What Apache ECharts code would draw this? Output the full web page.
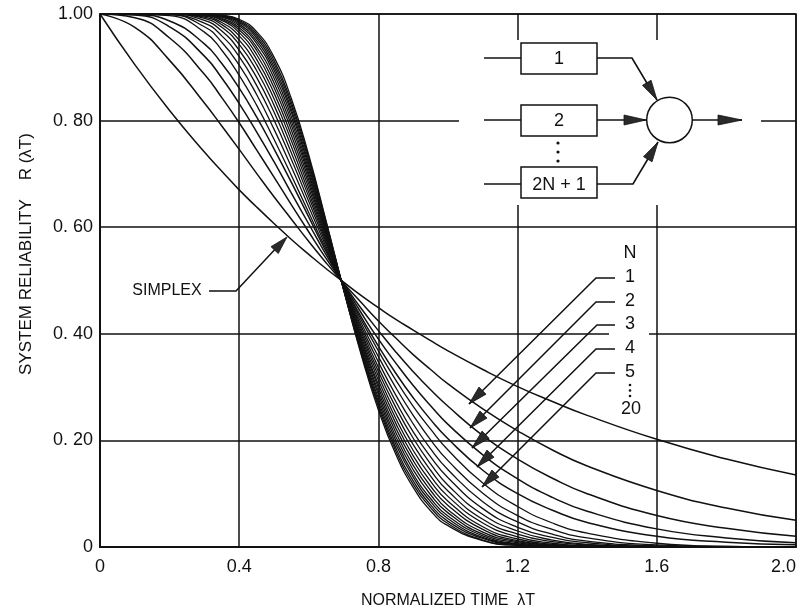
<!DOCTYPE html>
<html>
<head>
<meta charset="utf-8">
<title>System reliability vs normalized time</title>
<script src="https://cdn.jsdelivr.net/npm/echarts@6.0.0/dist/echarts.min.js"></script>
<style>
  html, body { margin: 0; padding: 0; background: #fff; }
  #chart { width: 799px; height: 614px; }
</style>
</head>
<body>
<div id="chart"></div>
<script>
// normalized time samples (lambda * T)
var xs = [0, 0.1, 0.2, 0.3, 0.35, 0.4, 0.45, 0.5, 0.55, 0.6, 0.65, 0.7, 0.75,
          0.8, 0.85, 0.9, 0.95, 1.0, 1.1, 1.2, 1.3, 1.4, 1.6, 1.8, 2.0];

var simplex = [1, .905, .819, .741, .705, .670, .638, .607, .577, .549, .522, .497, .472,
               .449, .427, .407, .387, .368, .333, .301, .273, .247, .202, .165, .135];

// 2N+1 redundant modules with voter, N = 1..20
var r1  = [1, .975, .913, .833, .790, .746, .701, .657, .615, .573, .533, .495, .459, .424, .392, .361, .333, .306, .259, .218, .182, .152, .106, .073, .050];
var r2  = [1, .993, .955, .887, .843, .796, .745, .694, .642, .591, .541, .494, .448, .406, .366, .329, .295, .264, .209, .165, .129, .100, .059, .035, .020];
var r3  = [1, .998, .976, .921, .880, .832, .779, .723, .664, .606, .548, .493, .440, .390, .345, .303, .265, .230, .173, .128, .093, .067, .034, .017, .008];
var r4  = [1, .999, .987, .944, .907, .861, .807, .747, .684, .619, .554, .492, .432, .377, .326, .280, .239, .203, .144, .100, .069, .046, .020, .009, .004];
var r5  = [1, 1, .997, .966, .932, .885, .829, .765, .697, .627, .558, .491, .427, .368, .313, .264, .221, .182, .120, .076, .045, .026, .007, .001, 0];
var r6  = [1, 1, .999, .976, .947, .904, .849, .784, .713, .638, .563, .490, .421, .357, .299, .247, .201, .162, .101, .059, .033, .017, .004, .001, 0];
var r7  = [1, 1, .999, .983, .959, .920, .866, .801, .727, .648, .568, .489, .415, .347, .285, .231, .184, .145, .085, .047, .024, .011, .002, 0, 0];
var r8  = [1, 1, 1, .988, .968, .932, .881, .816, .739, .657, .572, .489, .410, .337, .273, .216, .169, .130, .072, .037, .018, .008, .001, 0, 0];
var r9  = [1, 1, 1, .992, .975, .943, .894, .829, .751, .665, .576, .488, .405, .329, .262, .204, .156, .116, .061, .030, .013, .005, .001, 0, 0];
var r10 = [1, 1, 1, .994, .980, .951, .905, .841, .762, .673, .580, .488, .400, .321, .251, .192, .144, .105, .052, .024, .010, .004, 0, 0, 0];
var r11 = [1, 1, 1, .996, .984, .959, .915, .852, .772, .681, .584, .487, .395, .313, .241, .181, .133, .095, .045, .019, .007, .002, 0, 0, 0];
var r12 = [1, 1, 1, .997, .988, .965, .924, .862, .782, .688, .587, .486, .391, .305, .232, .171, .123, .086, .038, .015, .005, .002, 0, 0, 0];
var r13 = [1, 1, 1, .998, .990, .970, .932, .871, .791, .695, .591, .486, .387, .299, .223, .162, .114, .078, .033, .012, .004, .001, 0, 0, 0];
var r14 = [1, 1, 1, .999, .992, .974, .938, .880, .799, .701, .594, .485, .383, .292, .215, .153, .106, .070, .028, .010, .003, .001, 0, 0, 0];
var r15 = [1, 1, 1, .999, .994, .978, .945, .888, .807, .707, .597, .485, .379, .286, .207, .145, .098, .064, .024, .008, .002, .001, 0, 0, 0];
var r16 = [1, 1, 1, .999, .995, .981, .950, .895, .815, .713, .600, .484, .375, .279, .200, .137, .091, .058, .021, .006, .002, 0, 0, 0, 0];
var r17 = [1, 1, 1, .999, .996, .984, .955, .901, .821, .719, .603, .484, .372, .273, .193, .131, .085, .053, .018, .005, .001, 0, 0, 0, 0];
var r18 = [1, 1, 1, 1, .997, .986, .959, .907, .828, .725, .606, .483, .368, .268, .186, .124, .079, .048, .016, .004, .001, 0, 0, 0, 0];
var r19 = [1, 1, 1, 1, .997, .988, .963, .913, .834, .730, .609, .483, .365, .263, .180, .118, .074, .044, .013, .003, .001, 0, 0, 0, 0];
var r20 = [1, 1, 1, 1, .998, .990, .967, .919, .841, .735, .611, .483, .362, .257, .174, .112, .068, .040, .012, .003, .001, 0, 0, 0, 0];

var redundant = [r1, r2, r3, r4, r5, r6, r7, r8, r9, r10, r11, r12, r13, r14, r15, r16, r17, r18, r19, r20];

var xTickLabels = ['0', '0.4', '0.8', '1.2', '1.6', '2.0'];
var yTickLabels = ['0', '0. 20', '0. 40', '0. 60', '0. 80', '1.00'];
var nLabels = ['1', '2', '3', '4', '5'];

var INK = '#111';
var FONT = '"Liberation Sans", Arial, sans-serif';

var chart = echarts.init(document.getElementById('chart'), null, {renderer: 'canvas'});

function curve(ys, w) {
    return {
        type: 'line',
        data: xs.map(function (x, i) { return [x, ys[i]]; }),
        smooth: 0.5,
        symbol: 'none',
        silent: true,
        lineStyle: {color: INK, width: w}
    };
}

var series = [curve(simplex, 1.5)];
redundant.forEach(function (ys, i) {
    series.push(curve(ys, i < 4 ? 1.5 : 1.3));
});

// little helpers for the annotation drawing
function line(points, w) {
    return {type: 'polyline', z: 110, silent: true,
        shape: {points: points},
        style: {stroke: INK, lineWidth: w || 1.5, fill: null}};
}
function head(tx, ty, fx, fy, len, wid) {
    var dx = tx - fx, dy = ty - fy, d = Math.sqrt(dx * dx + dy * dy);
    var ux = dx / d, uy = dy / d;
    var bx = tx - ux * len, by = ty - uy * len;
    var px = -uy * wid / 2, py = ux * wid / 2;
    return {type: 'polygon', z: 111, silent: true,
        shape: {points: [[tx, ty], [bx + px, by + py], [bx - px, by - py]]},
        style: {fill: '#2a2a2a', stroke: INK, lineWidth: 0.8}};
}
function label(txt, x, y, size, extra) {
    var el = {type: 'text', z: 112, silent: true, x: x, y: y,
        style: {text: txt, x: 0, y: 0, fill: INK, font: (size || 16) + 'px ' + FONT,
            align: 'center', verticalAlign: 'middle'}};
    if (extra) { for (var k in extra) el[k] = extra[k]; }
    return el;
}
function box(x, y, w, h) {
    return {type: 'rect', z: 111, silent: true,
        shape: {x: x, y: y, width: w, height: h},
        style: {fill: '#fff', stroke: INK, lineWidth: 1.5}};
}

var g = [];
// white patches that break the grid lines behind the diagram and the N labels
g.push({type: 'rect', z: 105, silent: true, shape: {x: 459, y: 40, width: 302, height: 165}, style: {fill: '#fff'}});
g.push({type: 'rect', z: 105, silent: true, shape: {x: 609, y: 332, width: 40, height: 11}, style: {fill: '#fff'}});

// block diagram: 2N+1 modules feeding a voter
var rows = [58, 120, 184];
var boxTops = [43, 105, 167];
['1', '2', '2N + 1'].forEach(function (t, i) {
    g.push(line([[484, rows[i]], [521, rows[i]]]));
    g.push(box(521, boxTops[i], 76, 31));
    g.push(label(t, 559, rows[i] + 1, 18));
});
g.push(line([[597, 58], [632, 58], [657, 100]], 1.6));
g.push(head(657, 100, 632, 58, 20, 10));
g.push(line([[597, 120], [646, 120]], 1.6));
g.push(head(646, 120, 597, 120, 22, 10));
g.push(line([[597, 184], [633, 184], [658, 142]], 1.6));
g.push(head(658, 142, 633, 184, 20, 10));
g.push({type: 'circle', z: 111, silent: true, shape: {cx: 669.5, cy: 120, r: 22.8},
    style: {fill: '#fff', stroke: INK, lineWidth: 1.5}});
g.push(line([[692, 120], [742, 120]], 1.6));
g.push(head(742, 120, 692, 120, 24, 10));
[143, 152, 161].forEach(function (y) {
    g.push({type: 'circle', z: 112, silent: true, shape: {cx: 558, cy: y, r: 1.6}, style: {fill: INK}});
});

// SIMPLEX callout
g.push(label('SIMPLEX', 167, 291, 16));
g.push(line([[209, 291], [236, 291], [280, 244]]));
g.push(head(287, 237, 236, 291, 18, 10));

// N callouts
g.push(label('N', 630, 253, 18));
var knees = [[596, 278], [596, 302], [597, 325], [596, 349], [596, 373]];
var tips = [[469, 404], [470, 428], [472, 448], [477, 467], [482, 487]];
knees.forEach(function (k, i) {
    g.push(label(nLabels[i], 630, k[1] - 1, 18));
    g.push(line([[615, k[1]], k, tips[i]]));
    g.push(head(tips[i][0], tips[i][1], k[0], k[1], 19, 10));
});
[385, 390.5, 396].forEach(function (y) {
    g.push({type: 'circle', z: 112, silent: true, shape: {cx: 630, cy: y, r: 1.3}, style: {fill: INK}});
});
g.push(label('20', 631, 409, 18));

// y axis title
g.push(label('SYSTEM RELIABILITY    R (\u03bbT)', 26, 254, 17, {rotation: Math.PI / 2}));

var option = {
    animation: false,
    backgroundColor: '#fff',
    textStyle: {fontFamily: FONT},
    grid: {left: 100, right: 2, top: 14, bottom: 61, show: true,
        borderColor: INK, borderWidth: 1.5, backgroundColor: 'transparent'},
    xAxis: {
        type: 'value', min: 0, max: 2, interval: 0.4,
        name: 'NORMALIZED TIME  \u03bbT', nameLocation: 'middle', nameGap: 46,
        nameTextStyle: {color: INK, fontSize: 16, fontFamily: FONT},
        axisLine: {lineStyle: {color: INK, width: 2}},
        axisTick: {show: false},
        axisLabel: {color: INK, fontSize: 18, margin: 11, alignMaxLabel: 'right',
            formatter: function (v) { return xTickLabels[Math.round(v / 0.4)]; }},
        splitLine: {show: true, lineStyle: {color: INK, width: 1.5}}
    },
    yAxis: {
        type: 'value', min: 0, max: 1, interval: 0.2,
        axisLine: {show: true, lineStyle: {color: INK, width: 2}},
        axisTick: {show: false},
        axisLabel: {color: INK, fontSize: 18, margin: 7,
            formatter: function (v) { return yTickLabels[Math.round(v / 0.2)]; }},
        splitLine: {show: true, lineStyle: {color: INK, width: 1.5}}
    },
    series: series,
    graphic: g
};

chart.setOption(option);
</script>
</body>
</html>
